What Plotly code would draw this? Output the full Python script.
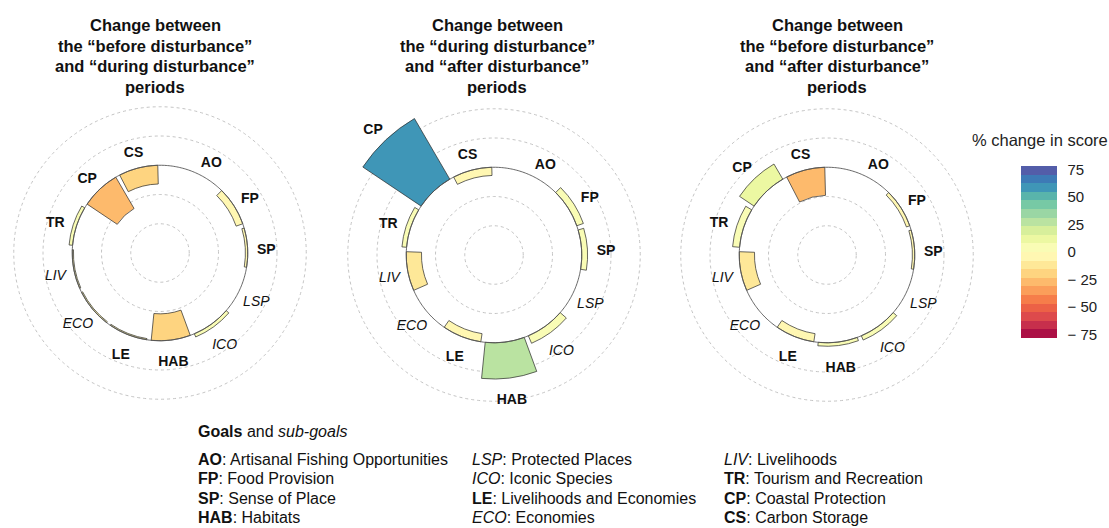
import numpy as np
import plotly.graph_objects as go

# ---------------- data ----------------
categories = ["AO", "FP", "SP", "LSP", "ICO", "HAB", "LE", "ECO", "LIV", "TR", "CP", "CS"]
is_goal = [True, True, True, False, False, True, True, False, False, True, True, True]

before_during = [0, -6, -2, 0, 3, -23, -1, -1, -1, 3, -31, -16]
during_after = [0, 6, 5, 0, 7, 31, -7, 0, -13, 4, 60, -7]
before_after = [0, -3, -2, 0, 4, 3, -7, 0, -13, 6, 15, -24]

panel_titles = [
    ["Change between", "the “before disturbance”", "and “during disturbance”", "periods"],
    ["Change between", "the “during disturbance”", "and “after disturbance”", "periods"],
    ["Change between", "the “before disturbance”", "and “after disturbance”", "periods"],
]

cb_tickvals = [75, 50, 25, 0, -25, -50, -75]
cb_ticktext = ["75", "50", "25", "0", "− 25", "− 50", "− 75"]

legend_cols = [
    ["<b>AO</b>: Artisanal Fishing Opportunities", "<b>FP</b>: Food Provision",
     "<b>SP</b>: Sense of Place", "<b>HAB</b>: Habitats"],
    ["<i>LSP</i>: Protected Places", "<i>ICO</i>: Iconic Species",
     "<b>LE</b>: Livelihoods and Economies", "<i>ECO</i>: Economies"],
    ["<i>LIV</i>: Livelihoods", "<b>TR</b>: Tourism and Recreation",
     "<b>CP</b>: Coastal Protection", "<b>CS</b>: Carbon Storage"],
]

# ---------------- style ----------------
W, H = 1109, 528
FONT = "Liberation Sans, Arial, Helvetica, sans-serif"
spectral = ["#9e0142", "#d53e4f", "#f46d43", "#fdae61", "#fee08b", "#ffffbf",
            "#e6f598", "#abdda4", "#66c2a5", "#3288bd", "#5e4fa2"]


def hex2rgb(h):
    h = h.lstrip("#")
    return [int(h[i:i + 2], 16) for i in (0, 2, 4)]


def interp(t):
    n = len(spectral) - 1
    x = t * n
    i = min(int(np.floor(x)), n - 1)
    f = x - i
    a, b = hex2rgb(spectral[i]), hex2rgb(spectral[i + 1])
    c = [round(a[k] + (b[k] - a[k]) * f) for k in range(3)]
    return f"rgb({c[0]},{c[1]},{c[2]})"


nbins = 20
colorscale = []
for k in range(nbins):
    c = interp((k + 0.5) / nbins)
    colorscale.append([k / nbins, c])
    colorscale.append([(k + 1) / nbins, c])

RMIN = -75
PX_PER_UNIT = 1.17
centers = [(160, 253), (494, 255), (827, 255)]
title_x = [155, 497, 837]
n = len(categories)
theta = [360 * (i + 1) / (n + 0.5) for i in range(n)]
bar_width = 0.9 * 360 / (n + 0.5)
label_offset = 16
label_dy = 4  # px: text sits slightly lower than its anchor in the reference

fig = go.Figure()
series = [before_during, during_after, before_after]
layout_polars = {}
annotations = []

hidden_angular = dict(rotation=90, direction="clockwise", showgrid=False,
                      showline=False, showticklabels=False, ticks="")

for k, vals in enumerate(series):
    sp = "polar" if k == 0 else f"polar{k + 1}"
    sp_lab = f"polar{k + 4}"
    label_r = [max(v, 0) + label_offset for v in vals]
    rmax = max(60, max(label_r) + 16)
    R = (rmax - RMIN) * PX_PER_UNIT
    cx, cy = centers[k]
    layout_polars[sp] = dict(
        domain=dict(x=[(cx - R) / W, (cx + R) / W],
                    y=[(H - cy - R) / H, (H - cy + R) / H]),
        bgcolor="rgba(0,0,0,0)",
        radialaxis=dict(range=[RMIN, rmax], tickvals=[-50, -25, 25, 50],
                        showgrid=True, gridcolor="#c4c4c4", griddash="dot", gridwidth=0.9,
                        showticklabels=False, ticks="", showline=False),
        angularaxis=hidden_angular,
    )
    ly = cy + label_dy
    layout_polars[sp_lab] = dict(
        domain=dict(x=[(cx - R) / W, (cx + R) / W],
                    y=[(H - ly - R) / H, (H - ly + R) / H]),
        bgcolor="rgba(0,0,0,0)",
        radialaxis=dict(range=[RMIN, rmax], showgrid=False, showticklabels=False,
                        ticks="", showline=False),
        angularaxis=hidden_angular,
    )
    # zero baseline circle
    fig.add_trace(go.Scatterpolar(
        r=[0] * 361, theta=list(np.linspace(0, 360, 361)), mode="lines",
        line=dict(color="#555555", width=0.9), subplot=sp,
        hoverinfo="skip", showlegend=False))
    fig.add_trace(go.Barpolar(
        r=vals, base=[0] * n, theta=theta, width=[bar_width] * n,
        marker=dict(color=vals, coloraxis="coloraxis",
                    line=dict(color="rgba(45,45,45,0.9)", width=0.8)),
        subplot=sp, showlegend=False, name=""))
    texts = [f"<b>{c}</b>" if g else f"<i>{c}</i>" for c, g in zip(categories, is_goal)]
    fig.add_trace(go.Scatterpolar(
        r=label_r, theta=theta, mode="text", text=texts,
        textfont=dict(size=14, color="#111111", family=FONT),
        textposition="middle center", cliponaxis=False,
        subplot=sp_lab, showlegend=False, hoverinfo="skip"))
    for j, line in enumerate(panel_titles[k]):
        annotations.append(dict(
            x=title_x[k] / W, y=1 - (25 + 20.5 * j) / H, xref="paper", yref="paper",
            text=f"<b>{line}</b>", showarrow=False, xanchor="center", yanchor="middle",
            font=dict(size=16.5, color="#111111", family=FONT)))

# colorbar title
annotations.append(dict(x=1040 / W, y=1 - 140 / H, xref="paper", yref="paper",
                        text="% change in score", showarrow=False, xanchor="center",
                        yanchor="middle", font=dict(size=16.5, color="#222222", family=FONT)))

# legend text
annotations.append(dict(x=196 / W, y=1 - 431 / H, xref="paper", yref="paper",
                        text="<b>Goals</b> and <i>sub-goals</i>", showarrow=False,
                        xanchor="left", yanchor="middle",
                        font=dict(size=16, color="#111111", family=FONT)))
col_x = [196, 470, 722]
row_y = [459, 478.5, 498, 517]
for ci, col in enumerate(legend_cols):
    for ri, txt in enumerate(col):
        annotations.append(dict(x=col_x[ci] / W, y=1 - row_y[ri] / H, xref="paper",
                                yref="paper", text=txt, showarrow=False,
                                xanchor="left", yanchor="middle",
                                font=dict(size=16, color="#111111", family=FONT)))

fig.update_layout(
    width=W, height=H, margin=dict(l=0, r=0, t=0, b=0),
    paper_bgcolor="white", plot_bgcolor="white",
    font=dict(family=FONT, color="#111111"),
    showlegend=False,
    annotations=annotations,
    coloraxis=dict(
        colorscale=colorscale, cmin=-78, cmax=78,
        colorbar=dict(x=1021 / W, xanchor="left", y=1 - 252 / H, yanchor="middle",
                      len=172 / H, lenmode="fraction", thickness=36,
                      thicknessmode="pixels", xpad=0, ypad=0, outlinewidth=0,
                      tickvals=cb_tickvals, ticktext=cb_ticktext, ticks="outside",
                      ticklen=8, tickcolor="white", tickwidth=1,
                      tickfont=dict(size=15, color="#222222", family=FONT)),
    ),
    **layout_polars,
)

fig.write_html("out.html", config={"displayModeBar": False},
               post_script="document.body.style.margin='0px';document.body.style.overflow='hidden';")
